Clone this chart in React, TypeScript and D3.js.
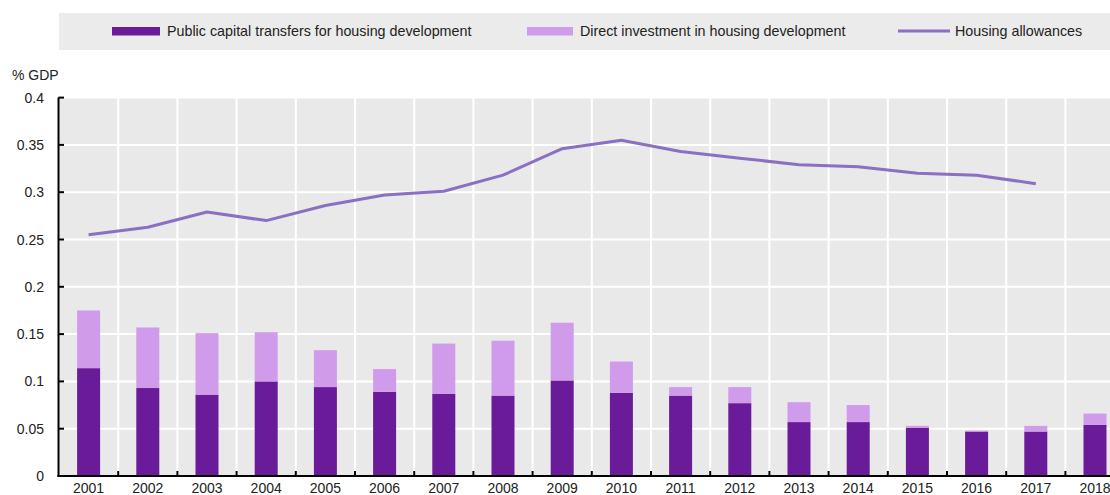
import React from "react";
import * as d3 from "d3";

const years = ["2001","2002","2003","2004","2005","2006","2007","2008","2009","2010","2011","2012","2013","2014","2015","2016","2017","2018"];
const capitalTransfers = [0.114,0.093,0.086,0.100,0.094,0.089,0.087,0.085,0.101,0.088,0.085,0.077,0.057,0.057,0.051,0.047,0.047,0.054];
const directInvestment = [0.061,0.064,0.065,0.052,0.039,0.024,0.053,0.058,0.061,0.033,0.009,0.017,0.021,0.018,0.002,0.001,0.006,0.012];
const allowances: (number | null)[] = [0.255,0.263,0.279,0.270,0.286,0.297,0.301,0.318,0.346,0.355,0.343,0.336,0.329,0.327,0.320,0.318,0.309,null];
const yTicks = [0,0.05,0.1,0.15,0.2,0.25,0.3,0.35,0.4];
const legendLabels = ["Public capital transfers for housing development","Direct investment in housing development","Housing allowances"];

const DARK = "#6a1b9a";
const LIGHT = "#d09bea";
const LINE = "#8b6fc2";
const FONT = "'Liberation Sans', Arial, sans-serif";

export default function App() {
  const W = 1110, H = 495;
  const x0 = 59, bw = 59.2;
  const x = d3.scaleBand().domain(years).range([x0, x0 + bw * years.length]).paddingInner(0).paddingOuter(0);
  const y = d3.scaleLinear().domain([0, 0.4]).range([476, 97.6]);
  const barW = 23;
  const cx = (yr: string) => (x(yr) as number) + x.bandwidth() / 2;
  const line = d3.line<number | null>()
    .defined((d) => d !== null)
    .x((_, i) => cx(years[i]))
    .y((d) => y(d as number));
  const plotRight = x0 + bw * years.length;
  const fmt = (v: number) => (v === 0 ? "0" : String(v));

  return (
    <svg width={W} height={H} style={{ position: "absolute", left: 0, top: 0, fontFamily: FONT }}>
      {/* legend */}
      <rect x={59} y={13} width={W - 59} height={37} fill="#ebebeb" />
      <rect x={112} y={27} width={48} height={8.5} fill={DARK} />
      <text x={167} y={36} fontSize={14.3} fill="#222">{legendLabels[0]}</text>
      <rect x={527} y={27} width={46} height={8.5} fill={LIGHT} />
      <text x={580} y={36} fontSize={14.3} fill="#222">{legendLabels[1]}</text>
      <line x1={898} x2={950} y1={31} y2={31} stroke={LINE} strokeWidth={3} />
      <text x={955} y={36} fontSize={14.3} fill="#222">{legendLabels[2]}</text>

      {/* y label */}
      <text x={12} y={80} fontSize={14} fill="#222">% GDP</text>

      {/* plot bg */}
      <rect x={x0} y={y(0.4)} width={plotRight - x0} height={y(0) - y(0.4)} fill="#e9e9e9" />
      {/* horizontal gridlines */}
      {yTicks.slice(1).map((t) => (
        <line key={"h" + t} x1={x0} x2={plotRight} y1={y(t)} y2={y(t)} stroke="#fff" strokeWidth={2} />
      ))}
      {/* vertical gridlines */}
      {years.slice(1).map((yr) => (
        <line key={"v" + yr} x1={x(yr) as number} x2={x(yr) as number} y1={y(0.4)} y2={y(0)} stroke="#fff" strokeWidth={2} />
      ))}

      {/* bars */}
      {years.map((yr, i) => (
        <g key={"b" + yr}>
          <rect x={cx(yr) - barW / 2} y={y(capitalTransfers[i])} width={barW} height={y(0) - y(capitalTransfers[i])} fill={DARK} />
          <rect x={cx(yr) - barW / 2} y={y(capitalTransfers[i] + directInvestment[i])} width={barW} height={y(capitalTransfers[i]) - y(capitalTransfers[i] + directInvestment[i])} fill={LIGHT} />
        </g>
      ))}

      {/* line */}
      <path d={line(allowances) || ""} fill="none" stroke={LINE} strokeWidth={3} strokeLinejoin="round" />

      {/* y axis */}
      <line x1={58.5} x2={58.5} y1={y(0.4)} y2={y(0) + 1} stroke="#000" strokeWidth={2} />
      {yTicks.map((t) => (
        <g key={"yt" + t}>
          <line x1={58.5} x2={64} y1={y(t)} y2={y(t)} stroke="#000" strokeWidth={2} />
          <text x={44} y={y(t) + 5} fontSize={14} textAnchor="end" fill="#222">{fmt(t)}</text>
        </g>
      ))}

      {/* x axis */}
      <line x1={57.5} x2={plotRight} y1={y(0)} y2={y(0)} stroke="#000" strokeWidth={2} />
      {years.slice(1).map((yr) => (
        <line key={"xt" + yr} x1={x(yr) as number} x2={x(yr) as number} y1={y(0)} y2={y(0) - 5} stroke="#000" strokeWidth={2} />
      ))}
      {years.map((yr) => (
        <text key={"xl" + yr} x={cx(yr)} y={493} fontSize={14} textAnchor="middle" fill="#222">{yr}</text>
      ))}
    </svg>
  );
}
